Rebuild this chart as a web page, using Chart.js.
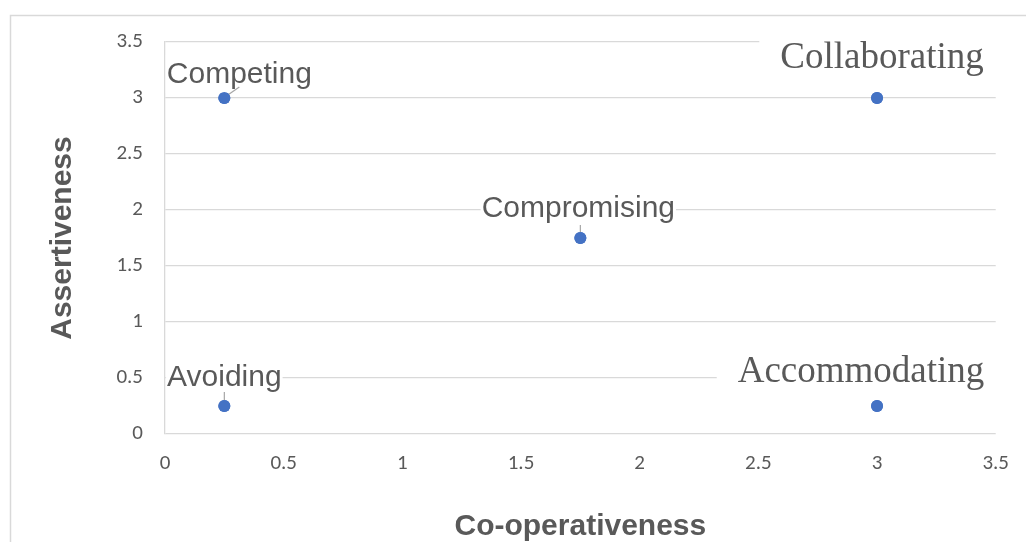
<!DOCTYPE html>
<html>
<head>
<meta charset="utf-8">
<title>Conflict handling styles</title>
<script src="https://cdn.jsdelivr.net/npm/chart.js@4.4.1/dist/chart.umd.min.js"></script>
<style>
  html, body { margin: 0; padding: 0; background: #ffffff; }
  #wrap { width: 1026px; height: 542px; position: relative; }
</style>
</head>
<body>
<div id="wrap"><canvas id="chart" width="1026" height="542"></canvas></div>
<script>
// Conflict-handling modes plotted by co-operativeness (x) and assertiveness (y)
const categories = ['Competing', 'Collaborating', 'Compromising', 'Avoiding', 'Accommodating'];
const cooperativeness = [0.25, 3, 1.75, 0.25, 3];
const assertiveness = [3, 3, 1.75, 0.25, 0.25];
const xTicks = [0, 0.5, 1, 1.5, 2, 2.5, 3, 3.5];
const yTicks = [0, 0.5, 1, 1.5, 2, 2.5, 3, 3.5];

// Label appearance: offsets (px) of the text centre/baseline from each point,
// font, padding of the white box behind the text and an optional leader line.
const SANS = '30px "Liberation Sans", Arial, sans-serif';
const SERIF = '37px "Liberation Serif", "Times New Roman", serif';
const labelStyle = {
  Competing:     { font: SANS,  dx: 15,  dy: -15, padX: 1,  leader: [[2, -2], [15, -11]] },
  Collaborating: { font: SERIF, dx: 5,   dy: -30, padX: 21, leader: null },
  Compromising:  { font: SANS,  dx: -2,  dy: -21, padX: 1,  leader: [[0, -5], [0, -13]] },
  Avoiding:      { font: SANS,  dx: 0,   dy: -20, padX: 1,  leader: [[0, -4], [0, -14]] },
  Accommodating: { font: SERIF, dx: -16, dy: -24, padX: 21, leader: null }
};

const GRID = '#d9d9d9';
const TEXT = '#595959';

const framePlugin = {
  id: 'outerFrame',
  beforeDraw(chart) {
    const ctx = chart.ctx;
    ctx.save();
    ctx.fillStyle = '#ffffff';
    ctx.fillRect(0, 0, chart.width, chart.height);
    ctx.strokeStyle = GRID;
    ctx.lineWidth = 1.5;
    ctx.strokeRect(10.5, 15.5, chart.width + 20, chart.height + 20);
    ctx.restore();
  }
};

const labelPlugin = {
  id: 'pointLabels',
  afterDatasetsDraw(chart) {
    const ctx = chart.ctx;
    const meta = chart.getDatasetMeta(0);
    ctx.save();
    meta.data.forEach((pt, i) => {
      const name = categories[i];
      const s = labelStyle[name];
      ctx.font = s.font;
      const m = ctx.measureText(name);
      const cx = pt.x + s.dx;
      const base = pt.y + s.dy;
      const w = m.width;
      const asc = m.actualBoundingBoxAscent;
      const desc = m.actualBoundingBoxDescent;
      // white box so the gridlines stop at the label
      ctx.fillStyle = '#ffffff';
      ctx.fillRect(cx - w / 2 - s.padX, base - asc - 6, w + 2 * s.padX, asc + desc + 10);
      ctx.fillStyle = TEXT;
      ctx.textAlign = 'center';
      ctx.textBaseline = 'alphabetic';
      ctx.fillText(name, cx, base);
      if (s.leader) {
        ctx.strokeStyle = '#a6a6a6';
        ctx.lineWidth = 1.2;
        ctx.beginPath();
        ctx.moveTo(pt.x + s.leader[0][0], pt.y + s.leader[0][1]);
        ctx.lineTo(pt.x + s.leader[1][0], pt.y + s.leader[1][1]);
        ctx.stroke();
      }
    });
    ctx.restore();
    // redraw points above the label boxes
    meta.data.forEach(el => el.draw(ctx, chart.chartArea));
  }
};

const tickFont = { family: '"Carlito", "Liberation Sans", Arial, sans-serif', size: 21 };
const titleFont = { family: '"Liberation Sans", Arial, sans-serif', size: 30, weight: 'bold', lineHeight: 1 };
const tickText = v => String(v);

new Chart(document.getElementById('chart'), {
  type: 'scatter',
  data: {
    datasets: [{
      label: 'Modes',
      data: categories.map((c, i) => ({ x: cooperativeness[i], y: assertiveness[i] })),
      backgroundColor: '#4472c4',
      borderColor: '#4472c4',
      pointRadius: 6,
      pointHoverRadius: 6,
      borderWidth: 0
    }]
  },
  options: {
    responsive: false,
    animation: false,
    events: [],
    layout: { padding: { top: 42, right: 22, bottom: 0, left: 0 } },
    plugins: { legend: { display: false }, tooltip: { enabled: false } },
    scales: {
      x: {
        type: 'linear',
        min: 0,
        max: 3.5,
        afterBuildTicks: scale => { scale.ticks = xTicks.map(v => ({ value: v })); },
        afterFit: scale => { scale.height = 108; },
        grid: { display: false, drawTicks: false },
        border: { display: false },
        ticks: { color: TEXT, font: tickFont, padding: 17, maxRotation: 0, autoSkip: false, callback: tickText },
        title: { display: true, text: 'Co-operativeness', color: TEXT, font: titleFont, padding: { top: 0, bottom: 0 } }
      },
      y: {
        type: 'linear',
        min: 0,
        max: 3.5,
        afterBuildTicks: scale => { scale.ticks = yTicks.map(v => ({ value: v })); },
        afterFit: scale => { scale.width = 165; },
        grid: { color: GRID, lineWidth: 1.3, drawTicks: false },
        border: { display: true, color: GRID, width: 1.3 },
        ticks: { color: TEXT, font: tickFont, padding: 22, autoSkip: false, callback: tickText },
        title: { display: true, text: 'Assertiveness', color: TEXT, font: titleFont, padding: { top: 48, bottom: 0 } }
      }
    }
  },
  plugins: [framePlugin, labelPlugin]
});
</script>
</body>
</html>
